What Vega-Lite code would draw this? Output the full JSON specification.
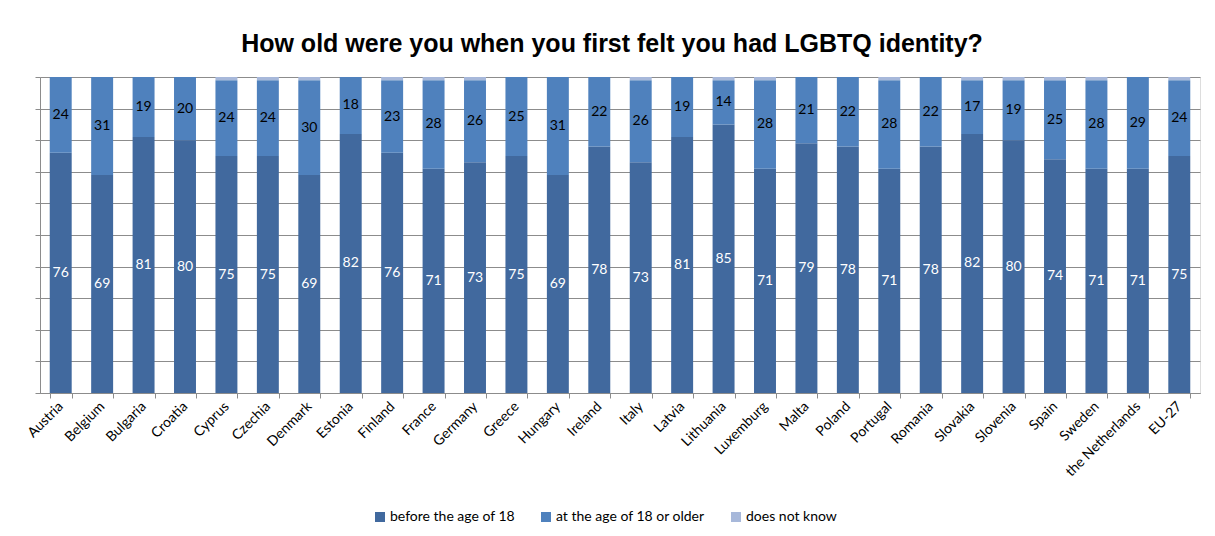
{
  "$schema": "https://vega.github.io/schema/vega-lite/v6.json",
  "width": 1160,
  "height": 316,
  "autosize": {"type": "none"},
  "padding": {"left": 40, "top": 77, "right": 15, "bottom": 143},
  "background": "white",
  "title": {
    "text": "How old were you when you first felt you had LGBTQ identity?",
    "font": "Liberation Sans",
    "fontSize": 25,
    "fontWeight": "bold",
    "color": "black",
    "anchor": "middle",
    "offset": 20,
    "dx": -8
  },
  "data": {
    "values": [
      {"country": "Austria", "before the age of 18": 76, "at the age of 18 or older": 24, "does not know": 0},
      {"country": "Belgium", "before the age of 18": 69, "at the age of 18 or older": 31, "does not know": 0},
      {"country": "Bulgaria", "before the age of 18": 81, "at the age of 18 or older": 19, "does not know": 0},
      {"country": "Croatia", "before the age of 18": 80, "at the age of 18 or older": 20, "does not know": 0},
      {"country": "Cyprus", "before the age of 18": 75, "at the age of 18 or older": 24, "does not know": 1},
      {"country": "Czechia", "before the age of 18": 75, "at the age of 18 or older": 24, "does not know": 1},
      {"country": "Denmark", "before the age of 18": 69, "at the age of 18 or older": 30, "does not know": 1},
      {"country": "Estonia", "before the age of 18": 82, "at the age of 18 or older": 18, "does not know": 0},
      {"country": "Finland", "before the age of 18": 76, "at the age of 18 or older": 23, "does not know": 1},
      {"country": "France", "before the age of 18": 71, "at the age of 18 or older": 28, "does not know": 1},
      {"country": "Germany", "before the age of 18": 73, "at the age of 18 or older": 26, "does not know": 1},
      {"country": "Greece", "before the age of 18": 75, "at the age of 18 or older": 25, "does not know": 0},
      {"country": "Hungary", "before the age of 18": 69, "at the age of 18 or older": 31, "does not know": 0},
      {"country": "Ireland", "before the age of 18": 78, "at the age of 18 or older": 22, "does not know": 0},
      {"country": "Italy", "before the age of 18": 73, "at the age of 18 or older": 26, "does not know": 1},
      {"country": "Latvia", "before the age of 18": 81, "at the age of 18 or older": 19, "does not know": 0},
      {"country": "Lithuania", "before the age of 18": 85, "at the age of 18 or older": 14, "does not know": 1},
      {"country": "Luxemburg", "before the age of 18": 71, "at the age of 18 or older": 28, "does not know": 1},
      {"country": "Malta", "before the age of 18": 79, "at the age of 18 or older": 21, "does not know": 0},
      {"country": "Poland", "before the age of 18": 78, "at the age of 18 or older": 22, "does not know": 0},
      {"country": "Portugal", "before the age of 18": 71, "at the age of 18 or older": 28, "does not know": 1},
      {"country": "Romania", "before the age of 18": 78, "at the age of 18 or older": 22, "does not know": 0},
      {"country": "Slovakia", "before the age of 18": 82, "at the age of 18 or older": 17, "does not know": 1},
      {"country": "Slovenia", "before the age of 18": 80, "at the age of 18 or older": 19, "does not know": 1},
      {"country": "Spain", "before the age of 18": 74, "at the age of 18 or older": 25, "does not know": 1},
      {"country": "Sweden", "before the age of 18": 71, "at the age of 18 or older": 28, "does not know": 1},
      {"country": "the Netherlands", "before the age of 18": 71, "at the age of 18 or older": 29, "does not know": 0},
      {"country": "EU-27", "before the age of 18": 75, "at the age of 18 or older": 24, "does not know": 1}
    ]
  },
  "transform": [
    {"fold": ["before the age of 18", "at the age of 18 or older", "does not know"], "as": ["series", "value"]},
    {"calculate": "indexof(['before the age of 18','at the age of 18 or older','does not know'], datum.series)", "as": "ord"},
    {"stack": "value", "groupby": ["country"], "sort": [{"field": "ord", "order": "ascending"}], "as": ["v0", "v1"]},
    {"calculate": "(datum.v0 + datum.v1) / 2", "as": "mid"}
  ],
  "encoding": {
    "x": {
      "field": "country",
      "type": "nominal",
      "sort": null,
      "scale": {"paddingInner": 0.47, "paddingOuter": 0.235},
      "axis": {
        "title": null,
        "labelAngle": -45,
        "labelAlign": "right",
        "labelBaseline": "middle",
        "labelFont": "Lato",
        "labelFontSize": 14,
        "labelColor": "black",
        "labelPadding": 6,
        "tickBand": "extent",
        "tickSize": 5,
        "tickColor": "#8c8c8c",
        "domainColor": "#8c8c8c",
        "grid": false
      }
    }
  },
  "resolve": {"scale": {"y": "shared"}, "axis": {"y": "shared"}},
  "layer": [
    {
      "mark": {"type": "bar"},
      "encoding": {
        "y": {
          "field": "v0",
          "type": "quantitative",
          "scale": {"domain": [0, 100], "nice": false},
          "axis": {
            "title": null,
            "labels": false,
            "values": [0, 10, 20, 30, 40, 50, 60, 70, 80, 90, 100],
            "tickCount": 20,
            "grid": true,
            "gridColor": "#8c8c8c",
            "gridWidth": 1,
            "tickSize": 5,
            "tickColor": "#8c8c8c",
            "domainColor": "#8c8c8c"
          }
        },
        "y2": {"field": "v1"},
        "color": {
          "field": "series",
          "type": "nominal",
          "sort": ["before the age of 18", "at the age of 18 or older", "does not know"],
          "scale": {
            "domain": ["before the age of 18", "at the age of 18 or older", "does not know"],
            "range": ["#41699E", "#4F81BD", "#A7B8DA"]
          },
          "legend": {
            "title": null,
            "orient": "none",
            "direction": "horizontal",
            "legendX": 333,
            "legendY": 433,
            "symbolType": "square",
            "symbolSize": 100,
            "symbolStrokeWidth": 0,
            "labelFont": "Lato",
            "labelFontSize": 14,
            "labelColor": "black",
            "columnPadding": 24,
            "labelOffset": 3
          }
        }
      }
    },
    {
      "transform": [{"filter": "datum.series !== 'does not know'"}],
      "mark": {"type": "text", "font": "Lato", "fontSize": 14},
      "encoding": {
        "y": {
          "field": "mid",
          "type": "quantitative",
          "scale": {"domain": [0, 100], "nice": false},
          "axis": {
            "title": null,
            "labels": false,
            "values": [0, 10, 20, 30, 40, 50, 60, 70, 80, 90, 100],
            "tickCount": 20,
            "grid": true,
            "gridColor": "#8c8c8c",
            "gridWidth": 1,
            "tickSize": 5,
            "tickColor": "#8c8c8c",
            "domainColor": "#8c8c8c"
          }
        },
        "text": {"field": "value", "type": "quantitative"},
        "color": {
          "condition": {"test": "datum.series === 'before the age of 18'", "value": "white"},
          "value": "black"
        }
      }
    }
  ]
}
